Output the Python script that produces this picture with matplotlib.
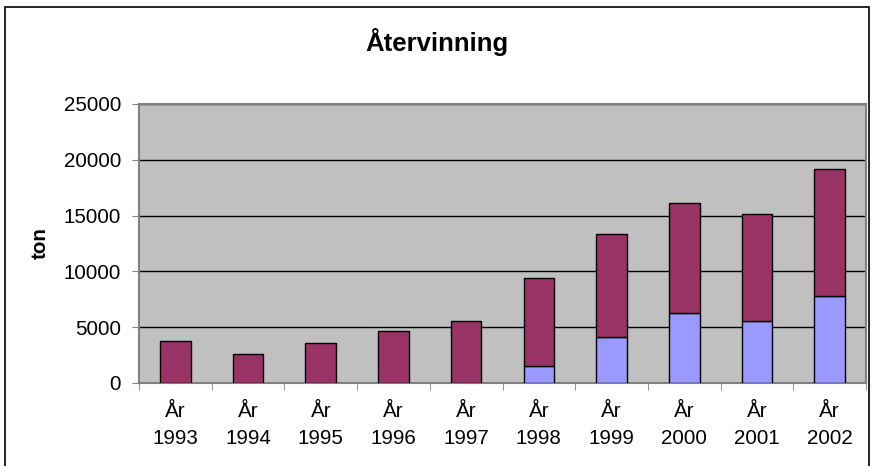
import matplotlib.pyplot as plt
from matplotlib.patches import Rectangle

plt.rcParams['font.family'] = ['Liberation Sans', 'DejaVu Sans']

years = ['1993', '1994', '1995', '1996', '1997', '1998', '1999', '2000', '2001', '2002']
labels = ['År\n' + y for y in years]
bas = [0, 0, 0, 0, 0, 1530, 4160, 6280, 5570, 7840]
totalt = [3800, 2630, 3560, 4640, 5590, 9450, 13350, 16100, 15140, 19150]
topp = [t - b for t, b in zip(totalt, bas)]

fig = plt.figure(figsize=(8.73, 4.66), dpi=100)
ax = fig.add_axes([139 / 873, 1 - 383 / 466, 727 / 873, 279 / 466])
ax.set_facecolor('#C0C0C0')

x = list(range(len(years)))
ax.bar(x, bas, width=0.42, color='#9999FF', edgecolor='black', linewidth=1, zorder=3)
ax.bar(x, topp, bottom=bas, width=0.42, color='#993366', edgecolor='black', linewidth=1, zorder=3)

ax.set_xlim(-0.5, len(years) - 0.5)
ax.set_ylim(0, 25000)
ax.set_yticks(range(0, 25001, 5000))
ax.yaxis.grid(True, color='black', linewidth=1, zorder=1)
ax.set_axisbelow(True)

ax.set_xticks(x)
ax.set_xticklabels(labels, linespacing=1.5)
ax.set_xticks([i - 0.5 for i in range(len(years) + 1)], minor=True)
ax.tick_params(axis='x', which='major', length=0, pad=14, labelsize=14.8)
ax.tick_params(axis='x', which='minor', length=5, color='#808080')
ax.tick_params(axis='y', length=5, color='#808080', labelsize=14.8, pad=8)

for s in ax.spines.values():
    s.set_color('#808080')
    s.set_linewidth(1.5)

fig.text(40 / 873, 1 - 243 / 466, 'ton', rotation=90, ha='center', va='center',
         fontsize=14.8, fontweight='bold')
fig.text(0.5, 1 - 42 / 466, 'Återvinning', ha='center', va='center',
         fontsize=18.5, fontweight='bold')

# ram runt hela diagrammet
fig.patches.append(Rectangle((5 / 873, -0.1), 864 / 873, 1.1 - 7 / 466,
                             transform=fig.transFigure, fill=False,
                             edgecolor='black', linewidth=1.2))

fig.savefig('out.png', dpi=100)
